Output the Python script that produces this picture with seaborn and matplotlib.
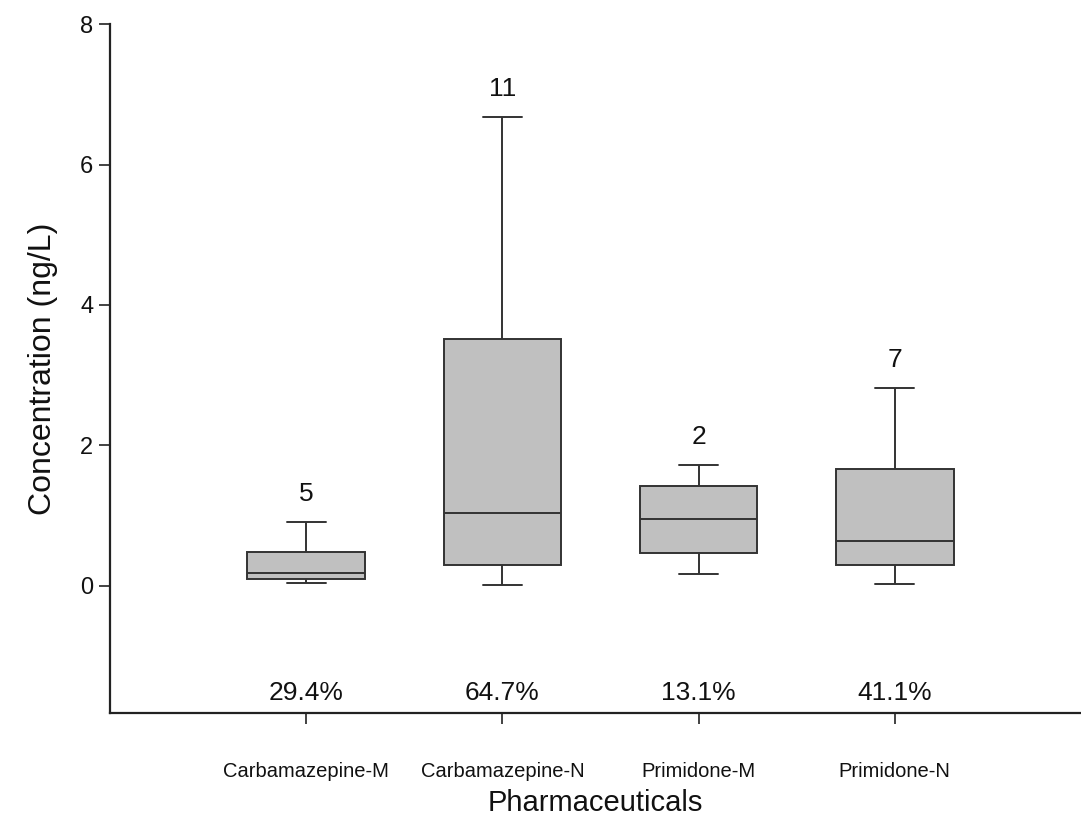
import numpy as np
import pandas as pd
import matplotlib
matplotlib.use("Agg")
import matplotlib.pyplot as plt
import seaborn as sns

# ---- data ----
categories = ["Carbamazepine-M", "Carbamazepine-N", "Primidone-M", "Primidone-N"]
# five-number summaries: min, Q1, median, Q3, max
carb_m = [0.03, 0.09, 0.18, 0.48, 0.91]
carb_n = [0.01, 0.30, 1.04, 3.52, 6.68]
prim_m = [0.16, 0.46, 0.95, 1.42, 1.72]
prim_n = [0.02, 0.29, 0.64, 1.66, 2.82]
counts = ["5", "11", "2", "7"]
percents = ["29.4%", "64.7%", "13.1%", "41.1%"]
yticks = [0, 2, 4, 6, 8]

series = [carb_m, carb_n, prim_m, prim_n]
df = pd.DataFrame({
    "drug": np.repeat(categories, [len(s) for s in series]),
    "value": np.concatenate(series),
})

sns.set_style("ticks")
plt.rcParams["font.family"] = ["Liberation Sans", "DejaVu Sans"]
plt.rcParams["text.color"] = "#111111"

fig = plt.figure(figsize=(10.81, 8.15), dpi=100)
ax = fig.add_axes([0.1018, 0.1248, 0.8982, 0.8454])

sns.boxplot(
    data=df, x="drug", y="value", order=categories, whis=np.inf, width=0.6,
    color="#c0c0c0", linecolor="#333333", linewidth=1.4, saturation=1,
    capwidths=0.2, ax=ax,
)

for i, (s, c) in enumerate(zip(series, counts)):
    ax.annotate(c, xy=(i, max(s)), xytext=(0, 20), textcoords="offset points",
                ha="center", va="center", fontsize=19, color="#111111")

for i, p in enumerate(percents):
    ax.text(i, -1.53, p, ha="center", va="center", fontsize=19,
            color="#111111")

ax.set_xlim(-1.0, 3.95)
ax.set_ylim(-1.82, 8)
ax.set_yticks(yticks)
ax.set_yticklabels([str(v) for v in yticks], fontsize=17, color="#111111")
ax.set_xticks(range(len(categories)))
ax.set_xticklabels(categories, fontsize=14.5, color="#111111")
ax.tick_params(axis="y", length=8, width=1.2, pad=4, color="#222222")
ax.tick_params(axis="x", length=8, width=1.2, pad=27, color="#222222")

ax.set_xlabel("Pharmaceuticals", fontsize=21, color="#111111")
ax.xaxis.set_label_coords(0.5, -0.13)
ax.xaxis.label.set_va("center")
ax.set_ylabel("Concentration (ng/L)", fontsize=23, labelpad=16, color="#111111")

for side in ["top", "right"]:
    ax.spines[side].set_visible(False)
for side in ["left", "bottom"]:
    ax.spines[side].set_linewidth(1.6)
    ax.spines[side].set_color("#222222")

fig.savefig("out.png", dpi=100)
